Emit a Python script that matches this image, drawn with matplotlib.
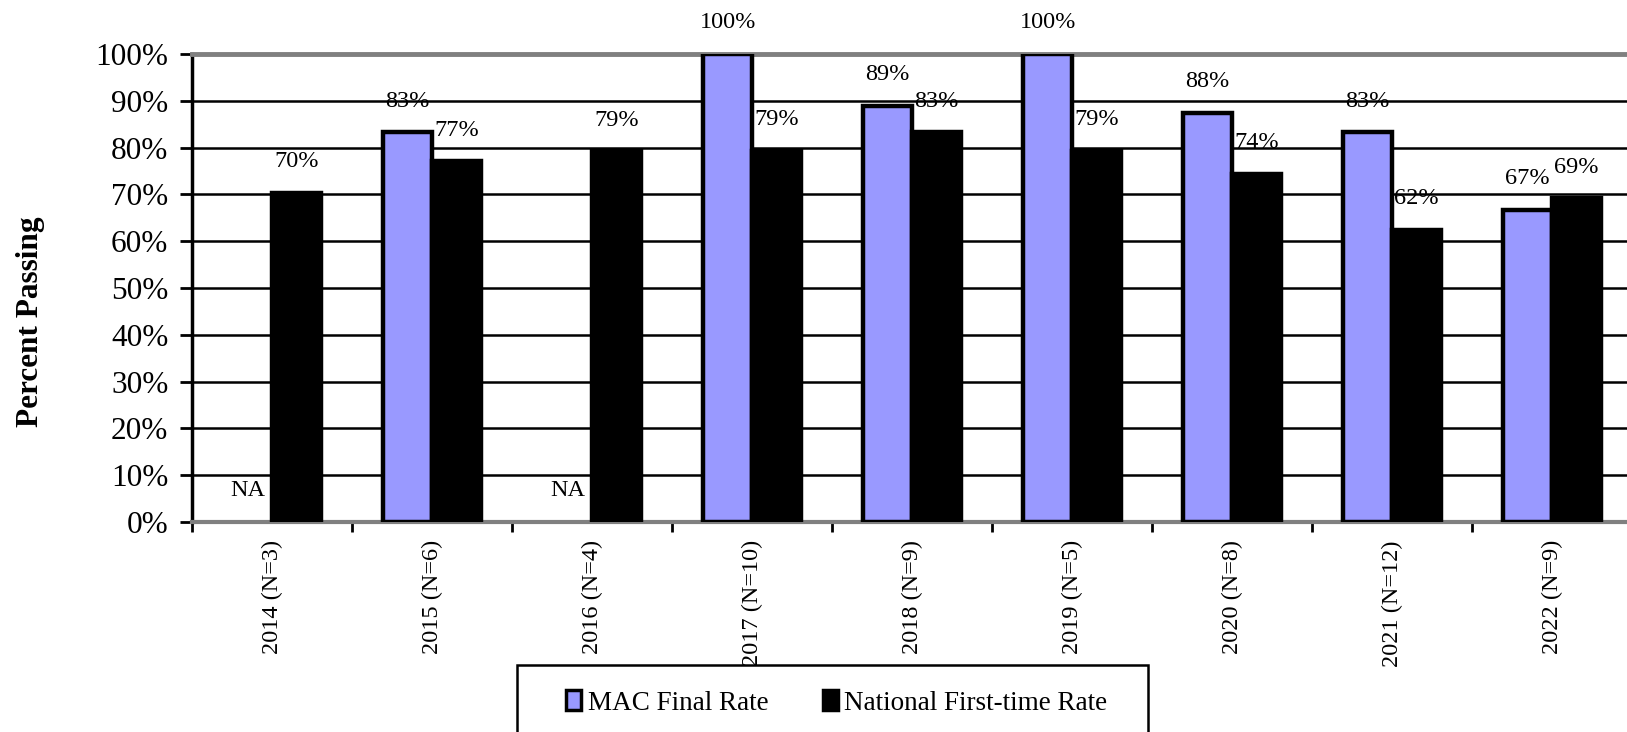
import numpy as np
import matplotlib
matplotlib.use("Agg")
import matplotlib.pyplot as plt
from matplotlib.patches import Rectangle, Patch
from matplotlib.ticker import FixedLocator, FuncFormatter

plt.rcParams["font.family"] = ["Liberation Serif", "DejaVu Serif"]

# ── data ──────────────────────────────────────────────────────────────────────
years    = ["2014", "2015", "2016", "2017", "2018", "2019", "2020", "2021", "2022"]
n_grads  = [3, 6, 4, 10, 9, 5, 8, 12, 9]
mac_rate = [None, 83.3, None, 100.0, 88.9, 100.0, 87.5, 83.3, 66.7]   # None -> NA
nat_rate = [70.3, 77.1, 79.2, 79.3, 83.3, 79.3, 74.4, 62.4, 69.2]
y_ticks  = list(range(0, 101, 10))

color_mac = "#9999FF"
color_nat = "#000000"

fig = plt.figure(figsize=(16.27, 7.32), dpi=100)
ax = fig.add_axes([192 / 1627, 1 - 522 / 732, 1440 / 1627, 468 / 732])

x = np.arange(len(years))
w = 0.305

mac_h = [v if v is not None else 0 for v in mac_rate]
mac_bars = ax.bar(x - w / 2, mac_h, w, color=color_mac, edgecolor="black",
                  linewidth=3.2, zorder=3)
for b, v in zip(mac_bars, mac_rate):
    if v is None:
        b.set_visible(False)
nat_bars = ax.bar(x + w / 2, nat_rate, w, color=color_nat, edgecolor="black",
                  linewidth=3.2, zorder=3)

# value labels
for xi, v in zip(x - w / 2, mac_rate):
    txt = "NA" if v is None else f"{v:.0f}%"
    ax.annotate(txt, xy=(xi, 0 if v is None else v), xytext=(0, 31),
                textcoords="offset pixels", ha="center", va="center",
                fontsize=17.5, zorder=5, annotation_clip=False)
for xi, v in zip(x + w / 2, nat_rate):
    ax.annotate(f"{v:.0f}%", xy=(xi, v), xytext=(0, 31),
                textcoords="offset pixels", ha="center", va="center",
                fontsize=17.5, zorder=5, annotation_clip=False)

# axes
ax.set_xlim(-0.5, len(years) - 0.5)
ax.set_ylim(0, 100)
ax.yaxis.set_major_locator(FixedLocator(y_ticks))
ax.yaxis.set_major_formatter(FuncFormatter(lambda v, p: f"{v:.0f}%"))
for t in y_ticks[1:-1]:
    ax.axhline(t, color="black", lw=1.8, zorder=1)

ax.set_xticks(np.arange(len(years) + 1) - 0.5)
ax.set_xticklabels([])
ax.set_xticks(x, minor=True)
ax.set_xticklabels([f"{y} (N={n})" for y, n in zip(years, n_grads)],
                   minor=True, rotation=90, fontsize=17.5, va="top")
ax.tick_params(axis="x", which="major", length=7, width=2, color="black")
ax.tick_params(axis="x", which="minor", length=0, pad=13)
ax.tick_params(axis="y", length=9, width=2, labelsize=22.5, pad=8)

ax.spines["right"].set_visible(False)
ax.spines["top"].set_color("#808080")
ax.spines["top"].set_linewidth(3.5)
ax.spines["bottom"].set_color("#808080")
ax.spines["bottom"].set_linewidth(3)
ax.spines["left"].set_color("black")
ax.spines["left"].set_linewidth(2.5)

fig.text(31 / 1627, 1 - 322 / 732, "Percent Passing", rotation=90,
         ha="center", va="center", fontsize=22.5, fontweight="bold")

# legend
fig.patches.append(Rectangle((517 / 1627, -0.05), (1148 - 517) / 1627,
                             1 - 665 / 732 + 0.05, transform=fig.transFigure,
                             facecolor="white", edgecolor="black", lw=1.8))
handles = [Patch(facecolor=color_mac, edgecolor="black", lw=2.5),
           Patch(facecolor=color_nat, edgecolor="black", lw=2.5)]
fig.legend(handles, ["MAC Final Rate", "National First-time Rate"],
           loc="center", bbox_to_anchor=(837 / 1627, 1 - 703 / 732), ncol=2,
           frameon=False, fontsize=19.5, handlelength=0.55, handleheight=0.75,
           handletextpad=0.25, columnspacing=2.0, borderpad=0)

fig.savefig("out.png", dpi=100)
